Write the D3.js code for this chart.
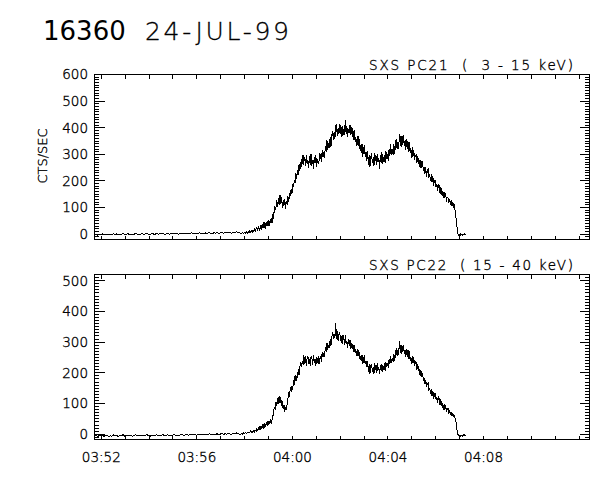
<!DOCTYPE html>
<html><head><meta charset="utf-8">
<script src="https://cdn.jsdelivr.net/npm/d3@7"></script>
<style>
body{margin:0;background:#fff}
svg{display:block}
text{font-family:"DejaVu Sans",sans-serif;fill:#000}
</style></head><body>
<svg id="c" width="600" height="480"></svg>
<script>
// ---- data ----
// quiet pre-flare part, 4 s samples from 03:51:44; flare part, 2 s samples from 03:57:52
const preStart = "1999-07-24T03:51:44Z", preCadence = 4;
const flareStart = "1999-07-24T03:57:52Z", flareCadence = 2;
const xDomain = ["1999-07-24T03:51:43Z", "1999-07-24T04:12:26Z"];
const xTickLabels = ["03:52", "03:56", "04:00", "04:04", "04:08"];
const yTicks21 = [0, 100, 200, 300, 400, 500, 600];
const yTicks22 = [0, 100, 200, 300, 400, 500];
const yRange21 = [-20, 600];
const yRange22 = [-17, 520];
const titleId = "16360";
const titleDate = "24-JUL-99";
const label21 = "SXS PC21  (  3 - 15 keV)";
const label22 = "SXS PC22  ( 15 - 40 keV)";
const yTitle = "CTS/SEC";

const pc21Pre = [
 -4,-1,-5,-2,-3,0,-4,-2,-1,-5, -2,-4,0,-3,-1,-5,-2,-3,1,-4,
 -2,0,-3,-1,-4,-2,1,-3,-1,-2, 0,-3,-1,1,-2,-4,0,-1,-3,1,
 -2,0,-1,2,-3,-1,1,-2,0,-1, 2,-1,0,-2,1,3,-1,0,2,-1,
 1,3,0,2,-1,1,3,0,2,1, 3,1,4,2,0,3,2,4,1,3,
 5,2,4,3,6,4,2,5,4,7, 5,3
];
const pc21Flare = [
 2,0,4,1,3,5,2,6,3,8,4,10,6,12,5,14,9,16,8,18,
 22,10,28,14,20,34,16,30,38,22,42,26,35,48,30,52,36,44,58,40,
 74,56,102,88,98,128,100,132,108,145,112,138,96,126,104,130,92,122,108,140,
 118,152,140,168,150,186,176,200,190,228,206,240,222,262,236,270,252,296,258,290,
 286,254,294,264,278,248,290,260,300,256,276,244,288,266,296,250,282,262,274,302,
 294,268,313,289,308,284,331,307,352,314,339,321,362,326,367,387,354,382,357,405,
 408,366,396,374,412,398,362,404,368,392,372,428,376,406,364,394,380,410,370,402,
 389,352,388,353,363,328,366,331,367,318,334,305,337,290,322,331,289,306,272,309,
 258,294,252,288,302,264,286,256,298,292,260,300,270,284,244,296,266,306,262,282,
 294,265,309,282,300,273,318,292,335,295,318,297,337,298,338,355,320,346,319,375,
 330,368,326,360,372,331,350,316,354,344,308,344,310,320,286,324,290,314,278,294,
 297,267,293,267,273,247,275,247,273,237,249,225,249,215,237,241,211,223,197,223,
 193,215,181,201,201,175,187,161,187,179,151,177,151,157,133,157,133,151,121,137,
 135,114,130,108,126,104,120,98,112,84,60,30,8,-6,-2,-8,1,-4,-7,-1,
 -5,0,-3
];
const pc22Pre = [
 -8,-5,-9,-6,-7,-4,-8,-6,-5,-9, -6,-8,-4,-7,-5,-9,-6,-7,-3,-8,
 -6,-4,-7,-5,-8,-6,-3,-7,-5,-6, -4,-7,-5,-3,-6,-8,-4,-5,-7,-3,
 -6,-4,-5,-2,-7,-5,-3,-6,-4,-5, -2,-5,-4,-6,-3,-1,-5,-4,-2,-5,
 -3,-1,-4,-2,-5,-3,-1,-4,-2,-3, -1,-3,0,-2,-4,-1,-2,0,-3,-1,
 1,-2,0,-1,2,0,-2,1,0,3, 1,-1
];
const pc22Flare = [
 -2,1,-1,3,0,2,4,1,5,2,6,3,8,4,9,5,11,7,12,8,
 18,8,22,12,26,15,20,30,16,34,22,28,38,24,42,30,36,48,32,44,
 55,72,88,78,104,90,116,96,124,100,118,92,106,80,94,72,88,78,98,115,
 135,119,151,137,154,142,174,160,191,171,189,181,210,190,218,232,217,237,225,255,
 226,252,222,246,254,228,244,222,252,248,224,256,232,242,220,250,230,252,226,244,
 252,235,265,250,264,251,282,266,295,273,290,281,307,286,312,331,308,326,313,360,
 310,334,302,324,331,303,317,293,321,315,290,320,294,302,278,307,285,305,277,293,
 292,267,290,267,274,253,276,253,274,245,254,237,256,227,246,251,226,237,216,237,
 200,226,196,220,228,202,218,196,226,222,198,230,206,216,194,224,204,226,200,218,
 224,205,234,217,230,215,244,227,254,231,246,235,260,237,262,279,254,271,256,303,
 263,290,260,283,289,261,274,249,276,269,242,271,244,251,226,253,230,249,220,235,
 232,209,226,206,209,188,206,185,198,174,179,162,176,151,164,166,143,148,130,145,
 122,139,114,129,131,110,119,100,119,114,93,112,93,96,79,96,79,92,72,81,
 82,66,78,63,72,58,68,54,62,48,40,18,2,-6,-8,-4,-9,-5,-7,-3,
 -8,-4,-6
];

// ---- layout ----
const left = 94, right = 589;
const svg = d3.select("#c");
const nb = s => s.replace(/ /g, "\u00A0");
const toSeries = (vals, start, cad) => {
  const s0 = new Date(start).getTime();
  return vals.map((v, i) => ({t: new Date(s0 + i * cad * 1000), v}));
};

const x = d3.scaleUtc().domain(xDomain.map(s => new Date(s))).range([left, right]);

const panels = [
  {series: toSeries(pc21Pre, preStart, preCadence).concat(toSeries(pc21Flare, flareStart, flareCadence)),
   domain: yRange21, top: 74, bottom: 239, ticks: yTicks21, label: label21},
  {series: toSeries(pc22Pre, preStart, preCadence).concat(toSeries(pc22Flare, flareStart, flareCadence)),
   domain: yRange22, top: 274, bottom: 439, ticks: yTicks22, label: label22}
];

const minuteTicks = d3.utcMinute.every(1).range(x.domain()[0], x.domain()[1]);
const thin = sel => sel.attr("font-family", "DejaVu Sans").attr("font-weight", 200)
  .attr("fill", "#000").attr("stroke", "#000").attr("stroke-width", 0.35);

panels.forEach(p => {
  const y = d3.scaleLinear().domain(p.domain).range([p.bottom, p.top]);
  const g = svg.append("g");
  const minor = d3.range(-10, p.domain[1] + 0.1, 10).filter(v => v >= p.domain[0]);

  g.append("rect").attr("x", left + 0.5).attr("y", p.top + 0.5)
    .attr("width", right - left).attr("height", p.bottom - p.top)
    .attr("fill", "none").attr("stroke", "#000").attr("stroke-width", 1)
    .attr("shape-rendering", "crispEdges");

  const tickStyle = sel => {
    sel.select(".domain").remove();
    sel.selectAll("line").attr("stroke", "#000").attr("shape-rendering", "crispEdges");
    sel.selectAll("text").remove();
  };
  g.append("g").attr("transform", `translate(${left + 0.5},0)`)
    .call(d3.axisRight(y).tickValues(minor).tickSize(4)).call(tickStyle);
  g.append("g").attr("transform", `translate(${left + 0.5},0)`)
    .call(d3.axisRight(y).tickValues(p.ticks).tickSize(10)).call(tickStyle);
  g.append("g").attr("transform", `translate(${right + 0.5},0)`)
    .call(d3.axisLeft(y).tickValues(minor).tickSize(5)).call(tickStyle);
  g.append("g").attr("transform", `translate(${right + 0.5},0)`)
    .call(d3.axisLeft(y).tickValues(p.ticks).tickSize(10)).call(tickStyle);
  g.append("g").attr("transform", `translate(0,${p.bottom + 0.5})`)
    .call(d3.axisTop(x).tickValues(minuteTicks).tickSize(4)).call(tickStyle);
  g.append("g").attr("transform", `translate(0,${p.top + 0.5})`)
    .call(d3.axisBottom(x).tickValues(minuteTicks).tickSize(4)).call(tickStyle);

  const yl = g.append("g").attr("transform", `translate(${left - 6},0)`)
    .call(d3.axisLeft(y).tickValues(p.ticks).tickSize(0).tickFormat(d3.format("d")));
  yl.select(".domain").remove();
  yl.selectAll("text").call(thin).attr("font-size", 13.5).attr("dy", "0.36em").attr("x", 0);

  g.append("text").attr("x", 573).attr("y", p.top - 4)
    .attr("text-anchor", "end").attr("font-size", 13.5).call(thin)
    .attr("textLength", 204).attr("lengthAdjust", "spacing")
    .text(nb(p.label));

  g.append("path").datum(p.series)
    .attr("fill", "none").attr("stroke", "#000").attr("stroke-width", 1)
    .attr("shape-rendering", "crispEdges")
    .attr("d", d3.line().x(d => x(d.t)).y(d => y(d.v)));
});

const labTimes = xTickLabels.map(s => new Date(`1999-07-24T${s}:00Z`));
const xl = svg.append("g").attr("transform", `translate(0,${449})`)
  .call(d3.axisBottom(x).tickValues(labTimes).tickSize(0)
    .tickFormat((d, i) => xTickLabels[i]));
xl.select(".domain").remove();
xl.selectAll("text").call(thin).attr("font-size", 13.5);

svg.append("text").attr("transform", "translate(47,156) rotate(-90)")
  .attr("text-anchor", "middle").attr("font-size", 13).call(thin).text(yTitle);

svg.append("text").attr("x", 43).attr("y", 40).attr("font-family", "Liberation Sans")
  .attr("font-size", 26).text(titleId);
svg.append("text").attr("x", 145).attr("y", 40).call(thin).attr("stroke-width", 0.3)
  .attr("font-size", 25)
  .attr("textLength", 144).attr("lengthAdjust", "spacing").text(titleDate);
</script></body></html>
